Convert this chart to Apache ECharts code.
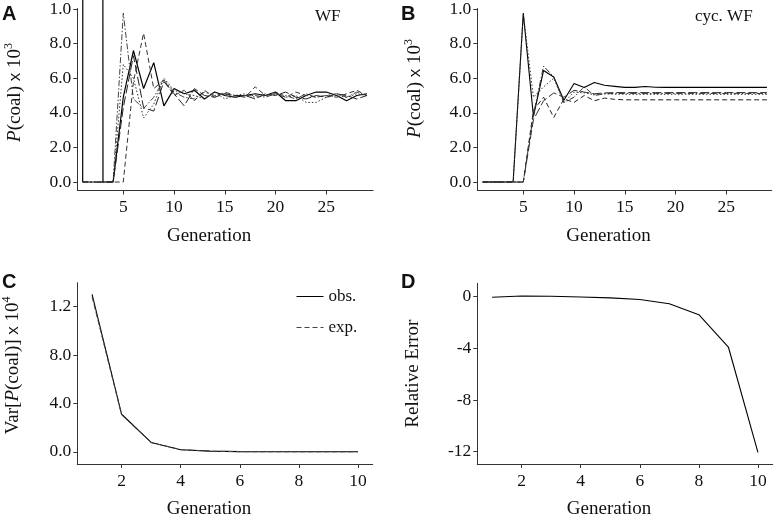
<!DOCTYPE html>
<html><head><meta charset="utf-8">
<script src="https://cdn.jsdelivr.net/npm/echarts@6/dist/echarts.min.js"></script>
<style>html,body{margin:0;padding:0;background:#fff}#c{width:775px;height:520px}</style>
</head><body><div id="c"></div>
<script>
// ---- data ----
const genA = [1,2,3,4,5,6,7,8,9,10,11,12,13,14,15,16,17,18,19,20,21,22,23,24,25,26,27,28,29];
const genC = [1,2,3,4,5,6,7,8,9,10];

// Panel A (WF), P(coal) x 10^3
const A_solid    = [0,1000,0,0,4.9,7.6,5.4,6.9,4.4,5.4,5.1,5.3,4.8,5.2,5.0,4.9,5.0,5.1,5.0,5.2,4.7,4.7,5.0,5.2,5.2,5.0,4.7,5.0,5.1];
const A_dashdot  = [0,0,0,0,9.76,4.8,4.25,4.9,5.9,5.2,4.9,4.8,5.2,5.0,5.1,4.9,5.0,5.0,4.9,5.1,5.0,4.8,5.1,4.9,5.0,5.1,4.9,5.2,5.0];
const A_dashed   = [0,0,0,0,0,5.8,8.6,5.4,5.9,5.0,5.3,4.7,5.3,4.9,5.2,5.0,4.9,5.5,5.0,5.1,4.9,5.2,5.0,4.9,5.0,4.9,5.1,5.3,5.0];
const A_dotted   = [0,0,0,0,6.8,6.0,3.7,4.5,6.0,5.3,5.1,5.0,4.8,5.2,4.8,5.0,5.1,4.9,5.0,5.2,4.9,5.0,4.6,4.6,4.9,5.0,4.9,5.1,5.0];
const A_longdash = [0,0,0,0,4.3,7.3,4.3,4.1,5.8,5.1,4.4,5.4,5.0,4.9,5.1,5.0,5.0,4.8,5.1,5.0,5.2,4.9,4.8,5.0,4.9,5.1,5.0,4.8,5.0];

// Panel B (cyc. WF)
const B_solid    = [0,0,0,0,9.76,3.8,6.45,6.07,4.73,5.69,5.46,5.75,5.59,5.53,5.47,5.47,5.52,5.48,5.47,5.47,5.47,5.47,5.47,5.47,5.47,5.47,5.47,5.47,5.47];
const B_dotted   = [0,0,0,0,9.7,4.9,5.5,6.0,4.6,5.2,5.15,5.05,5.1,5.08,5.07,5.07,5.07,5.07,5.07,5.07,5.07,5.07,5.07,5.07,5.07,5.07,5.07,5.07,5.07];
const B_dashdot  = [0,0,0,0,0,3.9,6.7,6.07,4.6,4.9,5.5,5.0,5.1,5.12,5.12,5.12,5.12,5.12,5.12,5.12,5.12,5.12,5.12,5.12,5.12,5.12,5.12,5.12,5.12];
const B_shortdash= [0,0,0,0,0,4.15,4.9,3.73,4.8,4.6,5.0,4.7,4.85,4.78,4.75,4.75,4.75,4.75,4.75,4.75,4.75,4.75,4.75,4.75,4.75,4.75,4.75,4.75,4.75];
const B_longdash = [0,0,0,0,0,3.6,4.7,5.15,4.9,5.3,5.2,5.1,5.15,5.17,5.17,5.17,5.17,5.17,5.17,5.17,5.17,5.17,5.17,5.17,5.17,5.17,5.17,5.17,5.17];

// Panel C: Var[P(coal)] x 10^4
const C_obs = [13.0,3.1,0.77,0.17,0.05,0.012,0.003,0.001,0.0003,0.0001];
const C_exp = [12.8,3.05,0.76,0.18,0.045,0.011,0.003,0.001,0.0002,0.0001];

// Panel D: relative error
const D_rel = [-0.05,0.05,0.03,-0.03,-0.1,-0.22,-0.55,-1.4,-3.9,-12.05];

// tick values
const ticksAx = [5,10,15,20,25];
const ticksAy = [0,2,4,6,8,10];
const ticksCx = [2,4,6,8,10];
const ticksCy = [0,4,8,12];
const ticksDy = [-12,-8,-4,0];

// ---- chart ----
const SERIF = '"Liberation Serif","DejaVu Serif",serif';
const SANS = '"Liberation Sans",Arial,sans-serif';
const AX = '#333';
const TXT = '#111';

function pairs(xs, ys){ return xs.map((x,i)=>[x, ys[i]]); }

function xAx(gi, min, max, ticks){
  return {type:'value', gridIndex:gi, min, max, name:'Generation', nameLocation:'middle', nameGap:36,
    nameTextStyle:{fontFamily:SERIF, fontSize:19, color:TXT, padding:[0,32,0,0]},
    axisLine:{show:true, onZero:false, lineStyle:{color:AX, width:1}},
    axisTick:{show:true, inside:false, length:4, customValues:ticks, lineStyle:{color:AX, width:1}},
    axisLabel:{customValues:ticks, fontFamily:SERIF, fontSize:17.5, color:TXT, margin:8},
    splitLine:{show:false}};
}
function yAx(gi, min, max, ticks, fmt, name, gap, pad){
  return {type:'value', gridIndex:gi, min, max, name, nameLocation:'middle', nameGap:gap, nameRotate:90,
    nameTextStyle:{fontFamily:SERIF, fontSize:19, color:TXT, padding:pad, lineHeight:24,
      rich:{i:{fontFamily:SERIF, fontSize:19, fontStyle:'italic', color:TXT},
            n:{fontFamily:SERIF, fontSize:19, color:TXT},
            x:{fontFamily:SANS, fontSize:17, color:TXT},
            s:{fontFamily:SERIF, fontSize:12, color:TXT, verticalAlign:'top', lineHeight:14}}},
    axisLine:{show:true, onZero:false, lineStyle:{color:AX, width:1}},
    axisTick:{show:true, inside:false, length:4, customValues:ticks, lineStyle:{color:AX, width:1}},
    axisLabel:{customValues:ticks, fontFamily:SERIF, fontSize:17.5, color:TXT, margin:6, formatter:fmt},
    splitLine:{show:false}};
}
const fmtP = v => (v===10 ? '1.0' : v.toFixed(1));
const fmtV = v => (v===12 ? '1.2' : v.toFixed(1));
const fmtD = v => String(v);

function ln(name, xi, data, dash, color, width, extra){
  return Object.assign({type:'line', name, xAxisIndex:xi, yAxisIndex:xi, data, symbol:'none', showSymbol:false, silent:true,
    animation:false, lineStyle:{color, width, type:dash}, itemStyle:{color}}, extra||{});
}

const DASH=[5,3], DOT=[1.5,2], DASHDOT=[6,2,1.5,2], LONG=[9,3];

const option = {
  animation:false,
  backgroundColor:'#fff',
  title:[
    {text:'A', left:2, top:4, padding:0, textStyle:{fontFamily:SANS, fontWeight:'bold', fontSize:20, color:TXT}},
    {text:'B', left:401, top:4, padding:0, textStyle:{fontFamily:SANS, fontWeight:'bold', fontSize:20, color:TXT}},
    {text:'C', left:2, top:272, padding:0, textStyle:{fontFamily:SANS, fontWeight:'bold', fontSize:20, color:TXT}},
    {text:'D', left:401, top:272, padding:0, textStyle:{fontFamily:SANS, fontWeight:'bold', fontSize:20, color:TXT}},
    {text:'WF', left:315, top:8, padding:0, textStyle:{fontFamily:SERIF, fontWeight:'normal', fontSize:17, color:TXT}},
    {text:'cyc. WF', left:695, top:8, padding:0, textStyle:{fontFamily:SERIF, fontWeight:'normal', fontSize:17, color:TXT}}
  ],
  legend:{data:['obs.','exp.'], orient:'vertical', left:296, top:288, padding:0, itemWidth:27, itemHeight:12, itemGap:14,
    itemStyle:{opacity:0}, lineStyle:{width:1}, textStyle:{fontFamily:SERIF, fontSize:17, color:TXT}, selectedMode:false},
  grid:[
    {left:77.3, top:8, width:295.7, height:182.5},
    {left:477.3, top:8, width:294.4, height:182.5},
    {left:77.3, top:282.7, width:295.4, height:182.3},
    {left:477.3, top:283.3, width:295.4, height:181.7}
  ],
  xAxis:[
    xAx(0, 0.47, 29.6, ticksAx),
    xAx(1, 0.47, 29.47, ticksAx),
    xAx(2, 0.5, 10.5, ticksCx),
    xAx(3, 0.5, 10.5, ticksCx)
  ],
  yAxis:[
    yAx(0, -0.49, 10.03, ticksAy, fmtP, '{i|P}{n|(coal) }{x|x}{n| 10}{s|3}', 50, [0,0,0,14]),
    yAx(1, -0.49, 10.03, ticksAy, fmtP, '{i|P}{n|(coal) }{x|x}{n| 10}{s|3}', 50, [0,0,0,22]),
    yAx(2, -1.01, 13.97, ticksCy, fmtV, '{n|Var[}{i|P}{n|(coal)] }{x|x}{n| 10}{s|4}', 52, [0,0,0,16]),
    yAx(3, -12.95, 1.03, ticksDy, fmtD, 'Relative Error', 52, [0,0,0,0])
  ],
  series:[
    ln('a1',0,pairs(genA,A_solid),'solid','#000',1.2,{clip:false}),
    ln('a2',0,pairs(genA,A_dashdot),DASHDOT,'#444',1),
    ln('a3',0,pairs(genA,A_dashed),DASH,'#333',1),
    ln('a4',0,pairs(genA,A_dotted),DOT,'#333',1),
    ln('a5',0,pairs(genA,A_longdash),LONG,'#222',1),
    ln('b1',1,pairs(genA,B_solid),'solid','#000',1.1),
    ln('b2',1,pairs(genA,B_dotted),DOT,'#333',1),
    ln('b3',1,pairs(genA,B_dashdot),DASHDOT,'#333',1),
    ln('b4',1,pairs(genA,B_shortdash),DASH,'#222',1),
    ln('b5',1,pairs(genA,B_longdash),LONG,'#333',1),
    ln('obs.',2,pairs(genC,C_obs),'solid','#000',1.1),
    ln('exp.',2,pairs(genC,C_exp),[5,3],'#444',1),
    ln('d',3,pairs(genC,D_rel),'solid','#000',1.1)
  ]
};
const chart = echarts.init(document.getElementById('c'), null, {renderer:'canvas'});
chart.setOption(option);
</script>
</body></html>
